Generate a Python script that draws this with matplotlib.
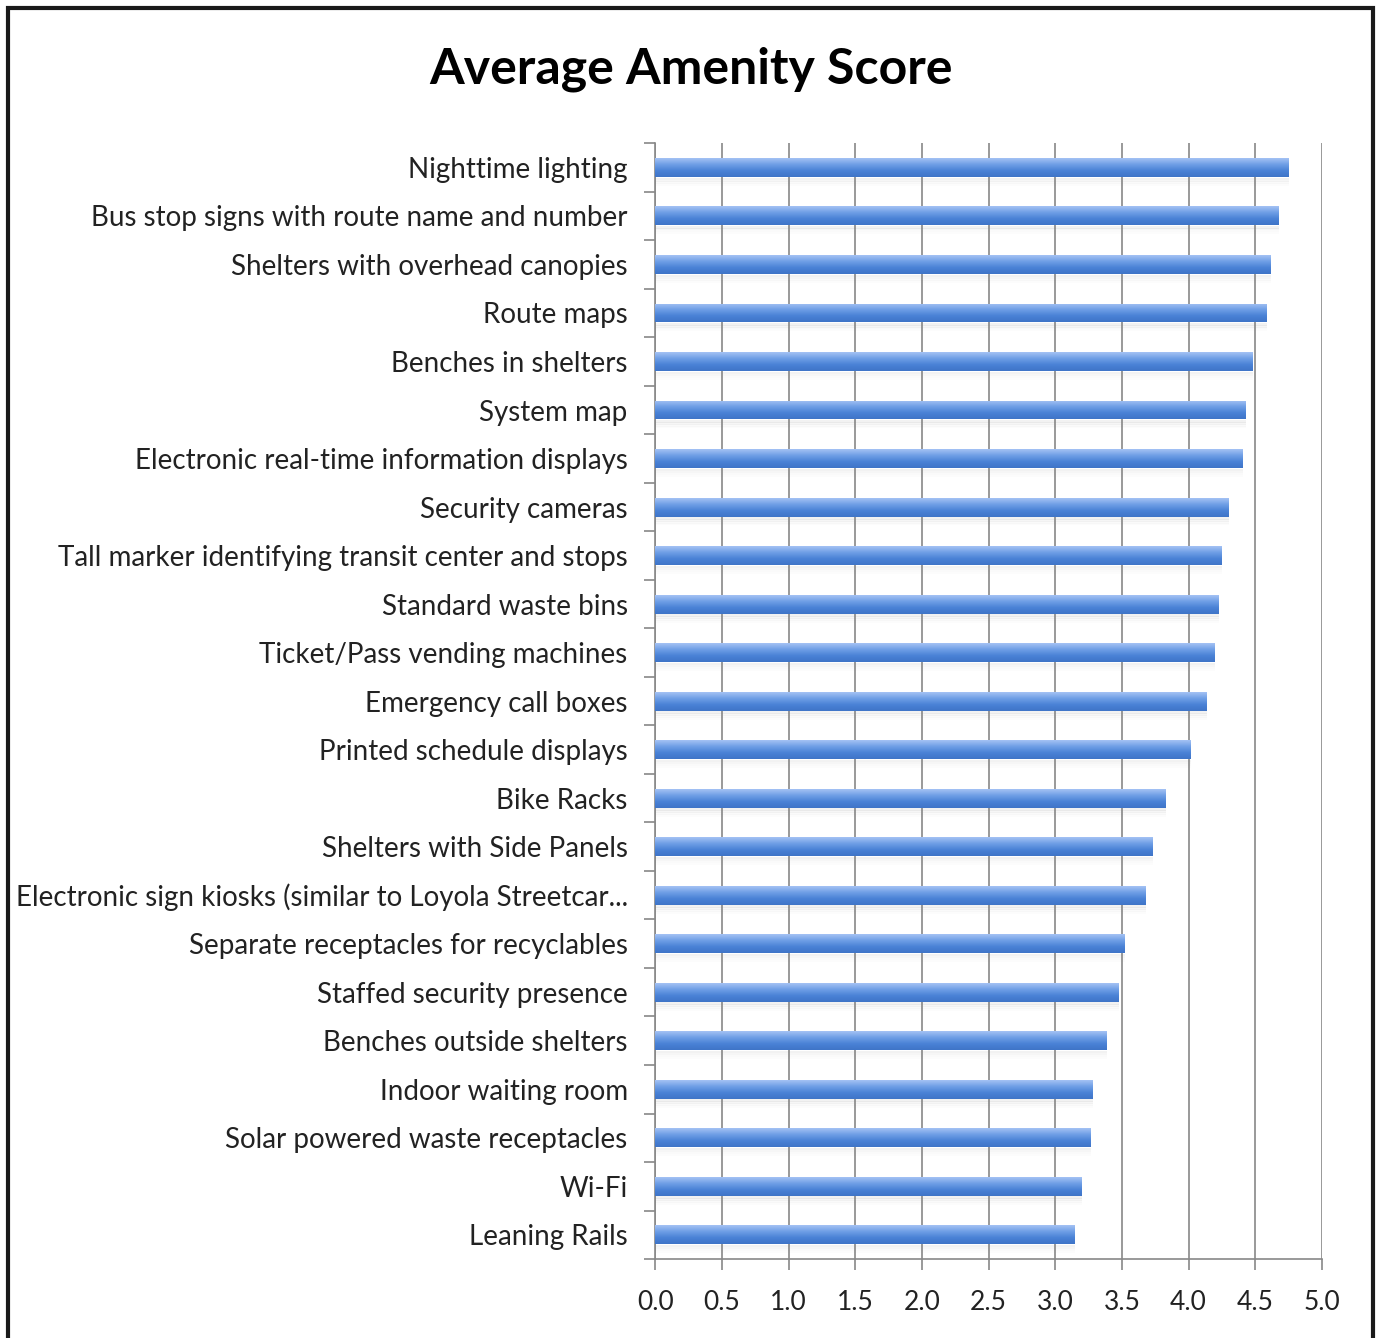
import numpy as np
import matplotlib
matplotlib.use('Agg')
import matplotlib.pyplot as plt
from matplotlib.colors import LinearSegmentedColormap
from matplotlib.patches import Rectangle

# categories top to bottom, as in the picture
amenities = [
    'Nighttime lighting',
    'Bus stop signs with route name and number',
    'Shelters with overhead canopies',
    'Route maps',
    'Benches in shelters',
    'System map',
    'Electronic real-time information displays',
    'Security cameras',
    'Tall marker identifying transit center and stops',
    'Standard waste bins',
    'Ticket/Pass vending machines',
    'Emergency call boxes',
    'Printed schedule displays',
    'Bike Racks',
    'Shelters with Side Panels',
    'Electronic sign kiosks (similar to Loyola Streetcar...',
    'Separate receptacles for recyclables',
    'Staffed security presence',
    'Benches outside shelters',
    'Indoor waiting room',
    'Solar powered waste receptacles',
    'Wi-Fi',
    'Leaning Rails',
]
scores = [4.75, 4.68, 4.62, 4.59, 4.48, 4.43, 4.41, 4.30, 4.25, 4.23, 4.20,
          4.14, 4.02, 3.83, 3.73, 3.68, 3.52, 3.48, 3.39, 3.28, 3.27, 3.20, 3.15]
xticks = [0.0, 0.5, 1.0, 1.5, 2.0, 2.5, 3.0, 3.5, 4.0, 4.5, 5.0]

plt.rcParams['font.family'] = ['Lato', 'DejaVu Sans']

fig = plt.figure(figsize=(13.77, 13.38), dpi=100)
ax = fig.add_axes([0.476, 0.059, 0.484, 0.834])

n = len(amenities)
ypos = np.arange(n)
bar_h = 0.39

# bar gradient: light top, darker middle/bottom
grad = LinearSegmentedColormap.from_list('g', ['#a4c2f4', '#6f9fe6', '#4a82d6', '#3f75c8'])
gimg = np.linspace(0, 1, 64).reshape(-1, 1)

for y, s in zip(ypos, scores):
    # soft shadow under the bar
    for k, a in enumerate([0.10, 0.07, 0.04, 0.02]):
        ax.barh(y + bar_h / 2 + 0.04 + k * 0.04, s, height=0.05, color='#808080',
                alpha=a, linewidth=0, zorder=2)
    bar = ax.barh(y, s, height=bar_h, color='#5b8fd9', linewidth=0, zorder=3)[0]
    im = ax.imshow(gimg, aspect='auto', cmap=grad, zorder=4,
                   extent=(0, s, y + bar_h / 2, y - bar_h / 2))
    im.set_clip_path(bar)

ax.set_xlim(0, 5.0)
ax.set_ylim(n - 0.5, -0.5)
ax.set_xticks(xticks)
ax.set_xticklabels(['%.1f' % t for t in xticks], fontsize=19, color='#222222')
ax.set_yticks(ypos)
ax.set_yticklabels(amenities, fontsize=20, color='#222222')
ax.tick_params(axis='y', length=0, pad=20)
ax.set_yticks(np.arange(n + 1) - 0.5, minor=True)
ax.tick_params(axis='y', which='minor', length=8, color='#888888', width=1.2)
ax.tick_params(axis='x', length=8, color='#888888', width=1.2, pad=14)

ax.grid(axis='x', color='#888888', linewidth=1.2, zorder=0)
ax.set_axisbelow(True)
for side in ['top', 'right']:
    ax.spines[side].set_visible(False)
for side in ['left', 'bottom']:
    ax.spines[side].set_color('#888888')
    ax.spines[side].set_linewidth(1.2)

fig.text(0.502, 0.948, 'Average Amenity Score', ha='center', va='center',
         fontsize=36, fontweight='bold', color='black')

# outer frame
fig.patches.append(Rectangle((0.006, -0.01), 0.991, 1.004, transform=fig.transFigure,
                             fill=False, edgecolor='#1a1a1a', linewidth=3))

fig.savefig('out.png', dpi=100)
